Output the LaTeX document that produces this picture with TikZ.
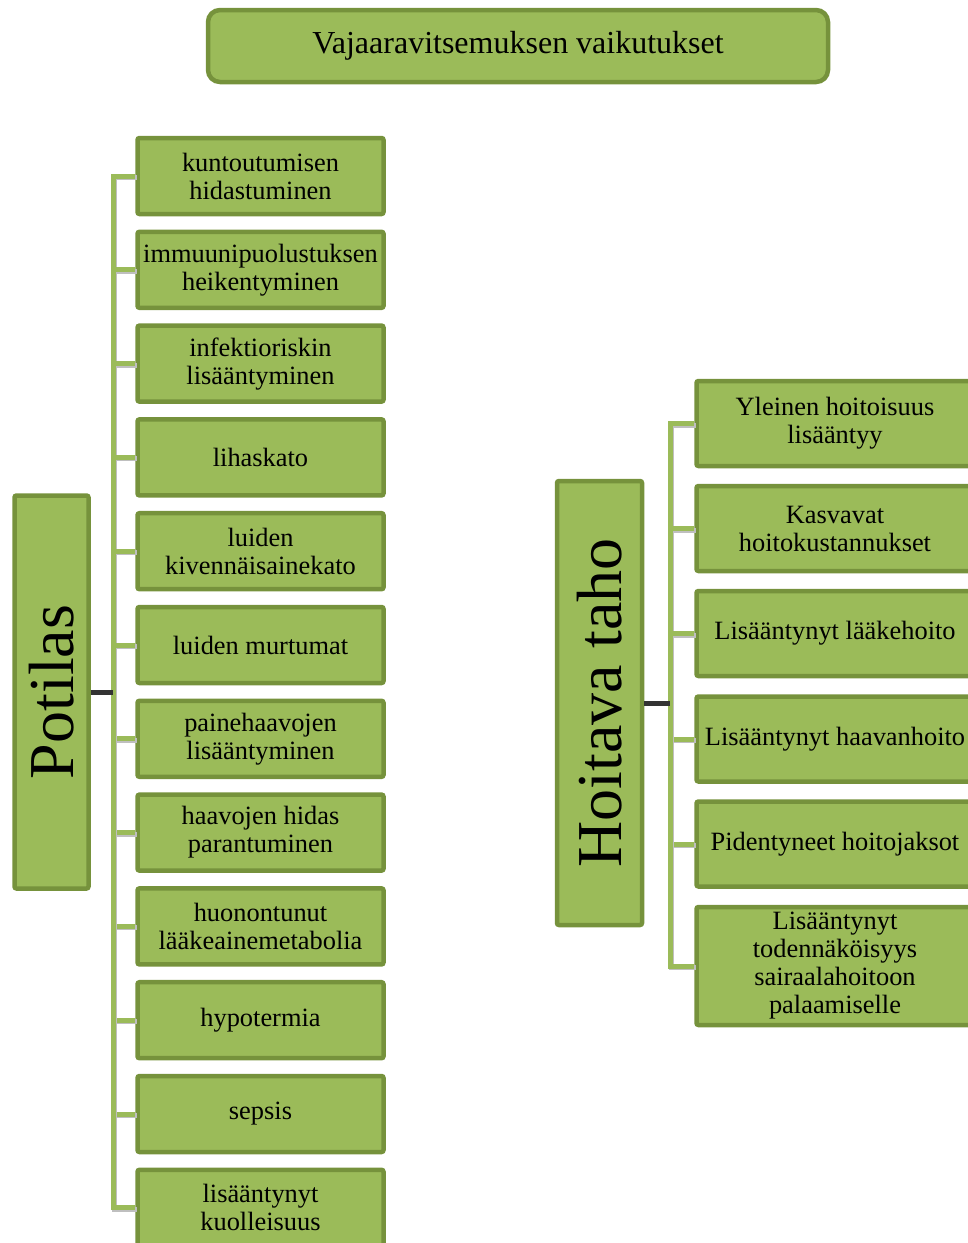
\documentclass[tikz,border=0pt]{standalone}
\usepackage{fontspec}
\setmainfont{Liberation Serif}
\usepackage{tikz}

\definecolor{olivefill}{HTML}{9BBB59}
\definecolor{oliveedge}{HTML}{76923C}

\newcommand{\itemfont}{\fontsize{26.4}{28}\selectfont}
\newcommand{\titlefont}{\fontsize{32}{38}\selectfont}
\newcommand{\bigfont}{\fontsize{64}{70}\selectfont}

\begin{document}
\begin{tikzpicture}[x=1pt,y=-1pt,
    box/.style={draw=oliveedge, fill=olivefill, line width=4.5pt, rounded corners=2pt,
        align=center, inner sep=0pt, font=\itemfont},
    leftbox/.style={box, minimum width=246pt, minimum height=76pt},
    rightbox/.style={box, minimum width=277pt, minimum height=85pt},
    conn/.style={draw=olivefill, line width=5pt,
        preaction={draw=black!25, line width=5pt, transform canvas={shift={(1.5pt,-1.5pt)}}}},
    rootconn/.style={draw=black!80, line width=5pt}]
    \useasboundingbox (0,0) rectangle (968,1243);

    % Title
    \node[box, rounded corners=12pt, minimum width=620pt, minimum height=72pt, font=\titlefont]
        (title) at (518,46) {Vajaaravitsemuksen vaikutukset};

    % Potilas (left tree)
    \node[box, minimum width=74pt, minimum height=393pt, font=\bigfont]
        (potilas) at (51.5,692) {\rotatebox{90}{Potilas}};

    \node[leftbox] (k1)  at (260.5,176.0)  {kuntoutumisen\\hidastuminen};
    \node[leftbox] (k2)  at (260.5,269.8)  {immuunipuolustuksen\\heikentyminen};
    \node[leftbox] (k3)  at (260.5,363.6)  {infektioriskin\\lisääntyminen};
    \node[leftbox] (k4)  at (260.5,457.4)  {lihaskato};
    \node[leftbox] (k5)  at (260.5,551.2)  {luiden\\kivennäisainekato};
    \node[leftbox] (k6)  at (260.5,645.0)  {luiden murtumat};
    \node[leftbox] (k7)  at (260.5,738.8)  {painehaavojen\\lisääntyminen};
    \node[leftbox] (k8)  at (260.5,832.6)  {haavojen hidas\\parantuminen};
    \node[leftbox] (k9)  at (260.5,926.4)  {huonontunut\\lääkeainemetabolia};
    \node[leftbox] (k10) at (260.5,1020.2) {hypotermia};
    \node[leftbox] (k11) at (260.5,1114.0) {sepsis};
    \node[leftbox] (k12) at (260.5,1207.8) {lisääntynyt\\kuolleisuus};

    % Hoitava taho (right tree)
    \node[box, minimum width=85pt, minimum height=444pt, font=\bigfont]
        (hoitava) at (599.5,703) {\rotatebox{90}{Hoitava taho}};

    \node[rightbox] (h1) at (835,423.5) {Yleinen hoitoisuus\\lisääntyy};
    \node[rightbox] (h2) at (835,528.5) {Kasvavat\\hoitokustannukset};
    \node[rightbox] (h3) at (835,633.5) {Lisääntynyt lääkehoito};
    \node[rightbox] (h4) at (835,739.0) {Lisääntynyt haavanhoito};
    \node[rightbox] (h5) at (835,844.0) {Pidentyneet hoitojaksot};
    \node[rightbox, minimum height=118pt] (h6) at (835,966.0)
        {Lisääntynyt\\todennäköisyys\\sairaalahoitoon\\palaamiselle};

    % Connectors, left
    \coordinate (pjoin) at (113,692);
    \draw[conn] (pjoin) |- (k1.west);
    \draw[conn] (pjoin) |- (k2.west);
    \draw[conn] (pjoin) |- (k3.west);
    \draw[conn] (pjoin) |- (k4.west);
    \draw[conn] (pjoin) |- (k5.west);
    \draw[conn] (pjoin) |- (k6.west);
    \draw[conn] (pjoin) |- (k7.west);
    \draw[conn] (pjoin) |- (k8.west);
    \draw[conn] (pjoin) |- (k9.west);
    \draw[conn] (pjoin) |- (k10.west);
    \draw[conn] (pjoin) |- (k11.west);
    \draw[conn] (pjoin) |- (k12.west);
    \draw[rootconn] (potilas.east) -- (pjoin);

    % Connectors, right
    \coordinate (hjoin) at (670,703);
    \draw[conn] (hjoin) |- (h1.west);
    \draw[conn] (hjoin) |- (h2.west);
    \draw[conn] (hjoin) |- (h3.west);
    \draw[conn] (hjoin) |- (h4.west);
    \draw[conn] (hjoin) |- (h5.west);
    \draw[conn] (hjoin) |- (h6.west);
    \draw[rootconn] (hoitava.east) -- (hjoin);
\end{tikzpicture}
\end{document}
